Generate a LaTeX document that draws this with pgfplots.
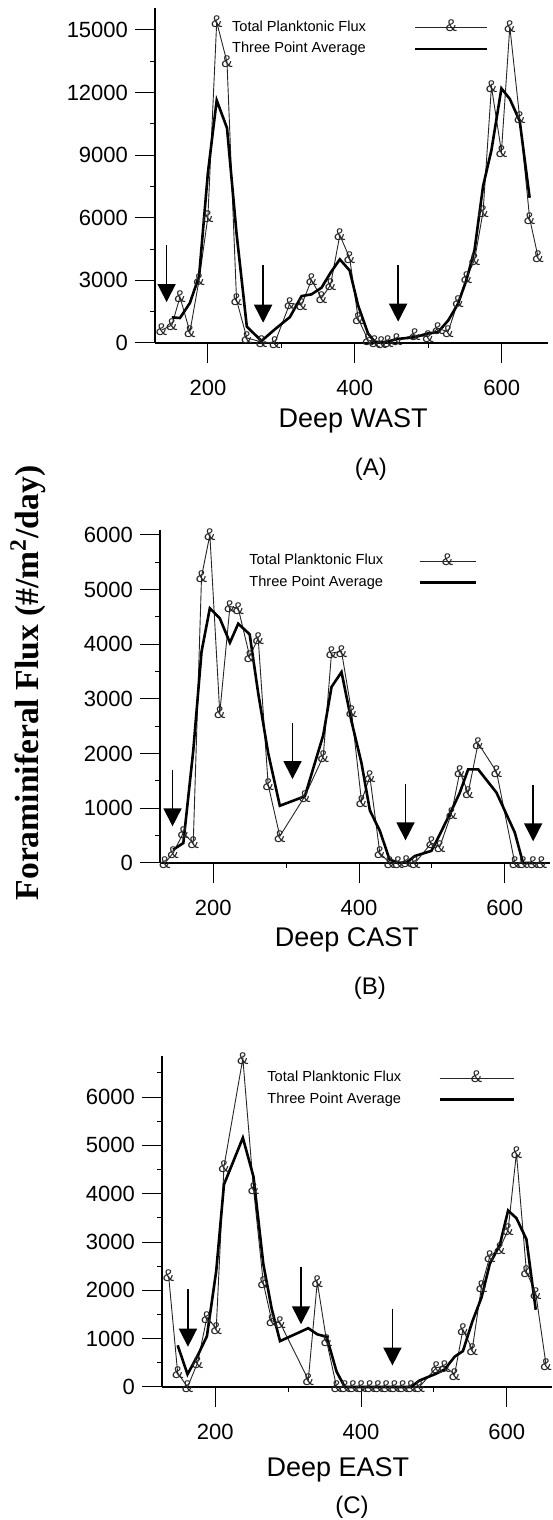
\documentclass[border=0pt]{standalone}
\usepackage{pgfplots}
\pgfplotsset{compat=1.18}
\usepackage{fontspec}
\setmainfont{Liberation Sans}
\newfontfamily\timesfont{Liberation Serif}
\usetikzlibrary{arrows.meta}

\pgfplotsset{
  panel/.style={
    scale only axis, axis lines*=left, clip=false,
    ymin=0, xtick={200,400,600}, minor xtick={300,500},
    tick align=outside, major tick length=10pt, minor tick length=2.5pt,
    tick style={black, line width=0.5pt},
    axis line style={black, line width=0.6pt},
    /pgf/number format/assume math mode=true,
    /pgf/number format/1000 sep={},
    scaled ticks=false,
    ticklabel style={font=\fontsize{11}{11}\selectfont},
    xticklabel style={yshift=-5pt},
    legend plot pos=right, legend cell align=left,
    legend style={draw=none, fill=none, anchor=north west,
      font=\fontsize{7.3}{8.5}\selectfont, row sep=0pt, inner sep=0pt},
  },
  leglen/.style={legend image code/.code={%
    \draw[mark repeat=2,mark phase=2,##1] plot coordinates {(0pt,0pt) (#1/2,0pt) (#1,0pt)};}},
  flux/.style={black!85, line width=0.45pt, mark=text, text mark={\&},
    text mark as node=true,
    text mark style={font=\fontsize{8.5}{8.5}\selectfont, inner sep=0pt, anchor=center}},
  avg/.style={black, line width=1.3pt, no marks},
  arr/.style={black, line width=0.8pt, -{Triangle[length=9pt,width=9pt]}, no marks, forget plot},
}

\begin{document}
\begin{tikzpicture}
\path[use as bounding box] (0,0) rectangle (276pt,760pt);

% (A) Deep WAST
\begin{axis}[panel, at={(77.5pt,588.5pt)}, anchor=south west,
  width=196.5pt, height=167.5pt, xmin=128, xmax=663, ymax=16050,
  ytick={0,3000,...,15000}, minor ytick={1500,4500,...,13500},
  leglen=36pt,
  legend style={at={(rel axis cs:0.185,0.975)}, column sep=22pt}]
\addplot[flux] coordinates {
 (137,620) (151,860) (162,2200) (175.5,530) (188,3020) (200,6040) (212,15380)
 (226,13460) (239,2060) (253,240) (273,50) (291,0) (311.6,1900) (327.5,1820)
 (341,3020) (354.7,2150) (367,2780) (379.6,5170) (393,4070) (404.5,1180)
 (418,140) (427,50) (436,0) (445,50) (456.7,140) (481.6,380) (499.7,300)
 (513,700) (527,540) (540.5,1980) (552,3110) (563,3980) (574.6,6290)
 (586,12280) (599.6,9160) (611,15150) (624.5,10770) (638,5970) (649.4,4130)
};
\addlegendentry{Total Planktonic Flux}
\addplot[avg] coordinates {
 (151,1227) (162,1197) (175.5,1917) (188,3197) (200,8147) (212,11627)
 (226,10300) (239,5253) (253,783) (273,97) (291,650) (311.6,1240)
 (327.5,2247) (341,2330) (354.7,2650) (367,3367) (379.6,4007) (393,3473)
 (404.5,1797) (418,457) (427,63) (436,33) (445,63) (456.7,190) (481.6,273)
 (499.7,460) (513,513) (527,1073) (540.5,1877) (552,3023) (563,4460)
 (574.6,7517) (586,9243) (599.6,12197) (611,11693) (624.5,10630) (638,6957)
};
\addlegendentry{Three Point Average}
\addplot[arr] coordinates {(143.8,4690) (143.8,1960)};
\addplot[arr] coordinates {(275.2,3740) (275.2,970)};
\addplot[arr] coordinates {(459,3740) (459,1020)};
\node[font=\fontsize{13.5}{14}\selectfont, yshift=-39pt] at (rel axis cs:0.504,0) {Deep WAST};
\node[font=\fontsize{12}{12}\selectfont, yshift=-63pt] at (rel axis cs:0.549,0) {(A)};
\end{axis}

% (B) Deep CAST
\begin{axis}[panel, at={(80pt,328.5pt)}, anchor=south west,
  width=195pt, height=166.5pt, xmin=127, xmax=662, ymax=6091,
  ytick={0,1000,...,6000}, minor ytick={500,1500,...,5500},
  leglen=28pt,
  legend style={at={(rel axis cs:0.218,0.94)}, column sep=15.5pt}]
\addplot[flux] coordinates {
 (133.7,0) (145,180) (159,550) (172.6,365) (184,5240) (195.4,6000) (209,2740)
 (222.9,4690) (234.3,4660) (250,3780) (261.7,4110) (275.4,1430) (291.4,490)
 (325.7,1220) (350.9,1950) (362.3,3840) (376,3870) (389.7,2770) (403.4,1130)
 (414.9,1580) (428.6,180) (442,0) (453.7,0) (465,20) (476.6,0) (499.4,365)
 (510.9,300) (526.9,910) (538.3,1670) (549.7,1280) (563.4,2190) (588.6,1670)
 (613.7,0) (625,0) (638.9,0) (650.3,0)
};
\addlegendentry{Total Planktonic Flux}
\addplot[avg] coordinates {
 (145,243) (159,365) (172.6,2052) (184,3868) (195.4,4660) (209,4477)
 (222.9,4030) (234.3,4377) (250,4183) (261.7,3107) (275.4,2010) (291.4,1047)
 (325.7,1220) (350.9,2337) (362.3,3220) (376,3493) (389.7,2590) (403.4,1827)
 (414.9,963) (428.6,587) (442,60) (453.7,7) (465,7) (476.6,128) (499.4,222)
 (510.9,525) (526.9,960) (538.3,1287) (549.7,1713) (563.4,1713) (588.6,1287)
 (613.7,557) (625,0) (638.9,0)
};
\addlegendentry{Three Point Average}
\addplot[arr] coordinates {(144.2,1705) (144.2,670)};
\addplot[arr] coordinates {(308.8,2558) (308.8,1535)};
\addplot[arr] coordinates {(463.8,1450) (463.8,414)};
\addplot[arr] coordinates {(638.9,1431) (638.9,396)};
\node[font=\fontsize{13.5}{14}\selectfont, yshift=-38.5pt] at (rel axis cs:0.479,0) {Deep CAST};
\node[font=\fontsize{12}{12}\selectfont, yshift=-62.5pt] at (rel axis cs:0.538,0) {(B)};
\end{axis}

% (C) Deep EAST
\begin{axis}[panel, at={(81pt,66.5pt)}, anchor=south west,
  width=195pt, height=165.5pt, xmin=127, xmax=662, ymax=6850,
  ytick={0,1000,...,6000}, minor ytick={500,1500,...,6500},
  leglen=37pt,
  legend style={at={(rel axis cs:0.259,0.967)}, column sep=16.5pt}]
\addplot[flux] coordinates {
 (136.1,2300) (148.5,290) (162,0) (175.8,500) (188.6,1440) (201.4,1210)
 (212,4560) (237.9,6800) (252.5,4110) (266,2150) (277.5,1370) (288.9,1330)
 (327.7,150) (340,2170) (352.8,950) (366.5,0) (377.8,0) (389.2,0) (400.5,0)
 (411.9,0) (423.2,0) (434.6,0) (445.9,0) (457.3,0) (468.6,0) (480,0)
 (503.3,400) (514.7,430) (528.4,260) (539.8,1190) (552.6,780) (565.3,2080)
 (576.7,2700) (590.4,2870) (601.8,3250) (613.2,4840) (626.9,2390)
 (639.7,1940) (653.8,465)
};
\addlegendentry{Total Planktonic Flux}
\addplot[avg] coordinates {
 (148.5,863) (162,263) (175.8,647) (188.6,1050) (201.4,2403) (212,4190)
 (237.9,5157) (252.5,4353) (266,2543) (277.5,1617) (288.9,950) (327.7,1217)
 (340,1090) (352.8,1040) (366.5,317) (377.8,0) (389.2,0) (400.5,0) (411.9,0)
 (423.2,0) (434.6,0) (445.9,0) (457.3,0) (468.6,0) (480,133) (503.3,277)
 (514.7,363) (528.4,627) (539.8,743) (552.6,1350) (565.3,1853) (576.7,2550)
 (590.4,2940) (601.8,3653) (613.2,3493) (626.9,3057) (639.7,1598)
};
\addlegendentry{Three Point Average}
\addplot[arr] coordinates {(162.6,2026) (162.6,833)};
\addplot[arr] coordinates {(317.7,2478) (317.7,1298)};
\addplot[arr] coordinates {(443.1,1624) (443.1,444)};
\node[font=\fontsize{13.5}{14}\selectfont, yshift=-41.5pt] at (rel axis cs:0.451,0) {Deep EAST};
\node[font=\fontsize{12}{12}\selectfont, yshift=-60pt] at (rel axis cs:0.487,0) {(C)};
\end{axis}

\node[rotate=90, font=\timesfont\bfseries\fontsize{16.8}{17}\selectfont] at (14pt,418.5pt)
  {Foraminiferal Flux (\#/m\textsuperscript{2}/day)};
\end{tikzpicture}
\end{document}
